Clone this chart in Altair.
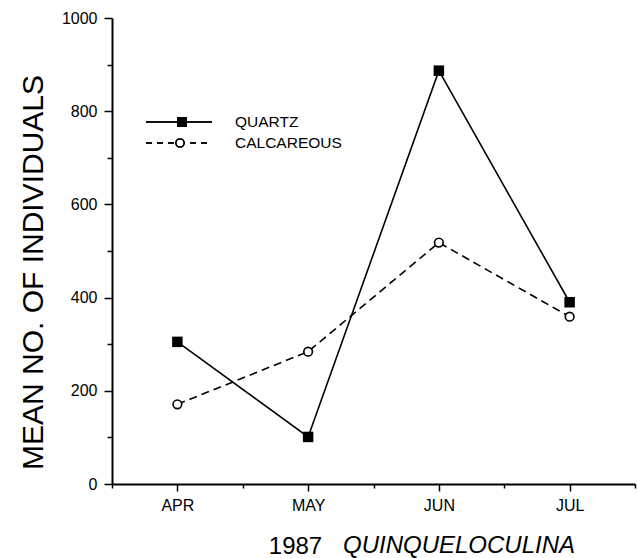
import altair as alt
import pandas as pd

months = ["APR", "MAY", "JUN", "JUL"]
month_pos = [1, 2, 3, 4]
quartz = [305, 101, 887, 390]
calcareous = [171, 284, 518, 359]
series_names = ["QUARTZ", "CALCAREOUS"]
year_label = "1987"
genus = "QUINQUELOCULINA"
y_title = "MEAN NO. OF INDIVIDUALS"

df = pd.DataFrame({
    "pos": month_pos * 2,
    "month": months * 2,
    "value": quartz + calcareous,
    "series": [series_names[0]] * 4 + [series_names[1]] * 4,
})

FONT = "Liberation Sans"
W, H = 523, 466

month_arr = "[" + ",".join(f"'{m}'" for m in months) + "]"

x_enc = alt.X(
    "pos:Q",
    scale=alt.Scale(domain=[0.5, 4.5], nice=False, zero=False),
    axis=alt.Axis(
        values=[0.5 + 0.5 * i for i in range(9)],
        labelExpr=f"floor(datum.value) == datum.value ? {month_arr}[datum.value - 1] : ''",
        tickSize={"condition": {"test": "floor(datum.value) == datum.value", "value": 7}, "value": 4},
        title=year_label,
        titleFontSize=24,
        titleFontWeight="normal",
        titleFont=FONT,
        titleX=183,
        titleY=69,
        titleAlign="center",
        titleBaseline="alphabetic",
        labelPadding=6,
        grid=False,
    ),
)
y_enc = alt.Y(
    "value:Q",
    scale=alt.Scale(domain=[0, 1000], nice=False),
    axis=alt.Axis(
        values=list(range(0, 1001, 100)),
        labelExpr="datum.value % 200 == 0 ? datum.label : ''",
        tickSize={"condition": {"test": "datum.value % 200 == 0", "value": 8}, "value": 5},
        title=y_title,
        titleFontSize=30,
        titleFontWeight="normal",
        titleFont=FONT,
        titleX=-79,
        titleY=254,
        titleAlign="center",
        titleBaseline="middle",
        labelPadding=7,
        format="d",
        grid=False,
    ),
)

base = alt.Chart(df).encode(x=x_enc, y=y_enc)

q_line = base.transform_filter(f"datum.series == '{series_names[0]}'").mark_line(
    color="black", strokeWidth=1.6)
c_line = base.transform_filter(f"datum.series == '{series_names[1]}'").mark_line(
    color="black", strokeWidth=1.6, strokeDash=[8, 5])
q_pts = base.transform_filter(f"datum.series == '{series_names[0]}'").mark_point(
    shape="square", filled=True, color="black", size=110, opacity=1)
c_pts = base.transform_filter(f"datum.series == '{series_names[1]}'").mark_point(
    shape="circle", filled=True, fill="white", stroke="black", strokeWidth=1.6, size=75, opacity=1)

leg_df = pd.DataFrame({"name": series_names})

leg_q_rule = alt.Chart(leg_df).mark_rule(color="black", strokeWidth=1.6).encode(
    x=alt.value(34), x2=alt.value(100), y=alt.value(104))
leg_c_rule = alt.Chart(leg_df).mark_rule(color="black", strokeWidth=1.6, strokeDash=[6, 5]).encode(
    x=alt.value(34), x2=alt.value(100), y=alt.value(125))
leg_q_pt = alt.Chart(leg_df).mark_point(shape="square", filled=True, color="black", size=100, opacity=1).encode(
    x=alt.value(70), y=alt.value(104))
leg_c_pt = alt.Chart(leg_df).mark_point(shape="circle", filled=True, fill="white", stroke="black",
                                         strokeWidth=1.6, size=65, opacity=1).encode(
    x=alt.value(68), y=alt.value(125))
leg_q_txt = alt.Chart(pd.DataFrame({"t": [series_names[0]]})).mark_text(
    align="left", baseline="middle", font=FONT, fontSize=15.5, color="black").encode(
    text="t:N", x=alt.value(123), y=alt.value(104))
leg_c_txt = alt.Chart(pd.DataFrame({"t": [series_names[1]]})).mark_text(
    align="left", baseline="middle", font=FONT, fontSize=15.5, color="black").encode(
    text="t:N", x=alt.value(123), y=alt.value(125))

genus_txt = alt.Chart(pd.DataFrame({"t": [genus]})).mark_text(
    align="left", baseline="alphabetic", font=FONT, fontSize=24, fontStyle="italic", color="black").encode(
    text="t:N", x=alt.value(231), y=alt.value(535))

chart = alt.layer(
    q_line, c_line, q_pts, c_pts,
    leg_q_rule, leg_c_rule, leg_q_pt, leg_c_pt, leg_q_txt, leg_c_txt,
    genus_txt,
).properties(
    width=W, height=H,
    autosize=alt.AutoSizeParams(type="none"),
    padding={"left": 112, "top": 18, "right": 2, "bottom": 74},
    background="white",
).configure_view(stroke=None).configure_axis(
    domainColor="black", domainWidth=2, tickColor="black", tickWidth=1.5,
    labelFont=FONT, labelFontSize=16, labelColor="black", titleColor="black",
)

chart.save("out.html", embed_options={"renderer": "svg", "actions": False})
